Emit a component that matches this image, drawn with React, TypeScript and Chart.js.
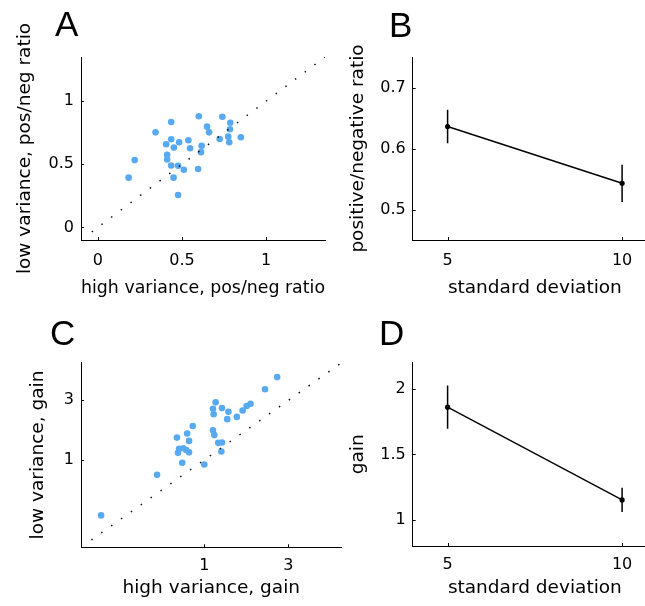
import React, { useEffect, useRef } from "react";
import { Chart, registerables } from "chart.js";
Chart.register(...registerables);

// ---------- Panel A: pos/neg ratio, high vs low variance ----------
const aHighVar = [0.6, 0.74, 0.436, 0.787, 0.649, 0.785, 0.343, 0.661, 0.724, 0.775, 0.85, 0.781, 0.436, 0.538, 0.483, 0.406, 0.452, 0.548, 0.617, 0.613, 0.412, 0.412, 0.219, 0.436, 0.477, 0.511, 0.596, 0.183, 0.45, 0.477];
const aLowVar = [0.88, 0.876, 0.835, 0.829, 0.798, 0.777, 0.753, 0.753, 0.7, 0.719, 0.714, 0.675, 0.698, 0.69, 0.675, 0.659, 0.632, 0.627, 0.646, 0.596, 0.575, 0.538, 0.533, 0.49, 0.488, 0.457, 0.462, 0.394, 0.394, 0.257];
const aDiag = [-0.036, 1.35];
const aTicks = [0, 0.5, 1];

// ---------- Panel B: ratio vs standard deviation ----------
const sdLevels = [5, 10];
const bRatioMean = [0.636, 0.543];
const bRatioErr = [0.0275, 0.0305];
const bYTicks = [0.5, 0.6, 0.7];
const sdTicks = [5, 10];

// ---------- Panel C: gain, high vs low variance (log-log) ----------
const cHighVar = [2.59, 2.21, 1.16, 1.83, 1.74, 1.65, 1.12, 1.26, 1.37, 1.13, 1.53, 1.35, 0.86, 0.8, 0.7, 0.82, 1.12, 1.14, 1.2, 1.26, 1.25, 0.72, 0.76, 0.79, 0.82, 0.71, 0.75, 1.0, 0.54, 0.26];
const cLowVar = [4.6, 3.68, 2.89, 2.82, 2.7, 2.49, 2.57, 2.6, 2.43, 2.32, 2.21, 2.12, 1.87, 1.63, 1.51, 1.42, 1.73, 1.58, 1.37, 1.38, 1.17, 1.23, 1.24, 1.2, 1.15, 1.14, 0.95, 0.92, 0.76, 0.36];
const cDiag = [0.229, 6];
const cTicks = [1, 3];

// ---------- Panel D: gain vs standard deviation ----------
const dGainMean = [1.86, 1.152];
const dGainErr = [0.165, 0.093];
const dYTicks = [1, 1.5, 2];

// ---------- styling / layout ----------
const CW = 700;
const CH = 606;
const FAMILY = "'DejaVu Sans', sans-serif";
const TICK_FONT = { family: FAMILY, size: 16 };
const TITLE_SIZE = 18.5;
const TITLE_LH = 1.2;
const TITLE_FONT = { family: FAMILY, size: TITLE_SIZE, lineHeight: TITLE_LH };
const BLUE = "rgb(88,170,240)";

type Frame = {
  left: number; right: number; top: number; bottom: number;
  yTitleX: number; xTitleBase: number; xTickPad: number;
  letter: string; lx: number; ly: number;
};

const frames: Record<string, Frame> = {
  A: { left: 81, right: 325, top: 57, bottom: 240, yTitleX: 25.5, xTitleBase: 295, xTickPad: 11.5, letter: "A", lx: 55, ly: 36 },
  B: { left: 412.7, right: 657, top: 57, bottom: 240, yTitleX: 358.5, xTitleBase: 295, xTickPad: 11.5, letter: "B", lx: 389, ly: 36.5 },
  C: { left: 81, right: 341.5, top: 362.7, bottom: 547.3, yTitleX: 38, xTitleBase: 595, xTickPad: 9, letter: "C", lx: 50, ly: 345 },
  D: { left: 412.7, right: 657, top: 362.7, bottom: 546, yTitleX: 358.5, xTitleBase: 595, xTickPad: 9, letter: "D", lx: 379, ly: 345 },
};

function geometry(f: Frame) {
  const half = (TITLE_SIZE * TITLE_LH) / 2;
  const mid = 0.346 * TITLE_SIZE;
  const scaleLeft = f.yTitleX - half;
  const yWidth = f.left - scaleLeft;
  const scaleBottom = f.xTitleBase - mid + half;
  const xHeight = scaleBottom - f.bottom;
  return {
    yWidth,
    xHeight,
    padding: { left: scaleLeft, top: f.top, right: CW - f.right, bottom: CH - scaleBottom },
  };
}

function makeAxis(kind: "x" | "y", type: string, min: number, max: number, ticks: number[], title: string, size: number, tickPad: number) {
  return {
    type,
    min,
    max,
    position: kind === "x" ? "bottom" : "left",
    grid: { display: false, drawTicks: false },
    border: { display: true, color: "#000", width: 1 },
    ticks: {
      color: "#000",
      font: TICK_FONT,
      padding: tickPad,
      autoSkip: false,
      maxRotation: 0,
      minRotation: 0,
      callback: (v: any) => String(v),
    },
    title: { display: true, text: title, color: "#000", font: TITLE_FONT, padding: 0 },
    afterBuildTicks: (s: any) => {
      s.ticks = ticks.map((v) => ({ value: v }));
    },
    afterFit: (s: any) => {
      if (kind === "x") s.height = size;
      else s.width = size;
      s.paddingLeft = 0;
      s.paddingRight = 0;
      s.paddingTop = 0;
      s.paddingBottom = 0;
    },
  };
}

const inwardTicks = {
  id: "inwardTicks",
  afterDraw(chart: any) {
    const { ctx, chartArea } = chart;
    const xs = chart.scales.x;
    const ys = chart.scales.y;
    ctx.save();
    ctx.strokeStyle = "#000";
    ctx.lineWidth = 1;
    ctx.beginPath();
    xs.ticks.forEach((t: any) => {
      const px = Math.round(xs.getPixelForValue(t.value)) + 0.5;
      ctx.moveTo(px, chartArea.bottom);
      ctx.lineTo(px, chartArea.bottom - 3);
    });
    ys.ticks.forEach((t: any) => {
      const py = Math.round(ys.getPixelForValue(t.value)) + 0.5;
      ctx.moveTo(chartArea.left, py);
      ctx.lineTo(chartArea.left + 3, py);
    });
    ctx.stroke();
    ctx.restore();
  },
};

function letterPlugin(f: Frame) {
  return {
    id: "panelLetter",
    afterDraw(chart: any) {
      const ctx = chart.ctx;
      ctx.save();
      ctx.fillStyle = "#000";
      ctx.font = "35px 'Liberation Sans', Arial, sans-serif";
      ctx.textAlign = "left";
      ctx.textBaseline = "alphabetic";
      ctx.fillText(f.letter, f.lx, f.ly);
      ctx.restore();
    },
  };
}

function errorBarPlugin(xs: number[], means: number[], errs: number[]) {
  return {
    id: "errorBars",
    afterDatasetsDraw(chart: any) {
      const { ctx } = chart;
      const sx = chart.scales.x;
      const sy = chart.scales.y;
      ctx.save();
      ctx.strokeStyle = "#000";
      ctx.lineWidth = 1.5;
      ctx.beginPath();
      xs.forEach((x, i) => {
        const px = sx.getPixelForValue(x);
        ctx.moveTo(px, sy.getPixelForValue(means[i] - errs[i]));
        ctx.lineTo(px, sy.getPixelForValue(means[i] + errs[i]));
      });
      ctx.stroke();
      ctx.restore();
    },
  };
}

function scatterConfig(f: Frame, xv: number[], yv: number[], diag: number[], axisType: string, min: number, max: number, ticks: number[], xTitle: string, yTitle: string) {
  const g = geometry(f);
  return {
    type: "scatter",
    data: {
      datasets: [
        {
          data: diag.map((v) => ({ x: v, y: v })),
          showLine: true,
          borderColor: "#111",
          borderWidth: 1.5,
          borderDash: [1.5, 10.6],
          borderCapStyle: "butt",
          pointRadius: 0,
          fill: false,
        },
        {
          data: xv.map((x, i) => ({ x, y: yv[i] })),
          backgroundColor: BLUE,
          borderWidth: 0,
          pointRadius: 3.3,
        },
      ],
    },
    options: {
      responsive: false,
      animation: false,
      devicePixelRatio: 1,
      events: [],
      layout: { padding: g.padding },
      plugins: { legend: { display: false }, tooltip: { enabled: false } },
      scales: {
        x: makeAxis("x", axisType, min, max, ticks, xTitle, g.xHeight, f.xTickPad),
        y: makeAxis("y", axisType, min, max, ticks, yTitle, g.yWidth, 7),
      },
    },
    plugins: [inwardTicks, letterPlugin(f)],
  };
}

function sdConfig(f: Frame, means: number[], errs: number[], yMin: number, yMax: number, yTicks: number[], yTitle: string) {
  const g = geometry(f);
  return {
    type: "scatter",
    data: {
      datasets: [
        {
          data: sdLevels.map((x, i) => ({ x, y: means[i] })),
          showLine: true,
          borderColor: "#000",
          borderWidth: 1.4,
          pointRadius: 2.6,
          pointBackgroundColor: "#000",
          pointBorderWidth: 0,
          fill: false,
        },
      ],
    },
    options: {
      responsive: false,
      animation: false,
      devicePixelRatio: 1,
      events: [],
      layout: { padding: g.padding },
      plugins: { legend: { display: false }, tooltip: { enabled: false } },
      scales: {
        x: makeAxis("x", "linear", 4, 11, sdTicks, "standard deviation", g.xHeight, f.xTickPad),
        y: makeAxis("y", "linear", yMin, yMax, yTicks, yTitle, g.yWidth, 7),
      },
    },
    plugins: [errorBarPlugin(sdLevels, means, errs), inwardTicks, letterPlugin(f)],
  };
}

export default function App() {
  const refA = useRef<HTMLCanvasElement>(null);
  const refB = useRef<HTMLCanvasElement>(null);
  const refC = useRef<HTMLCanvasElement>(null);
  const refD = useRef<HTMLCanvasElement>(null);

  useEffect(() => {
    const charts: Chart[] = [];
    charts.push(new Chart(refA.current as any, scatterConfig(frames.A, aHighVar, aLowVar, aDiag, "linear", -0.1, 1.35, aTicks, "high variance, pos/neg ratio", "low variance, pos/neg ratio") as any));
    charts.push(new Chart(refB.current as any, sdConfig(frames.B, bRatioMean, bRatioErr, 0.45, 0.75, bYTicks, "positive/negative ratio") as any));
    charts.push(new Chart(refC.current as any, scatterConfig(frames.C, cHighVar, cLowVar, cDiag, "logarithmic", 0.2, 6, cTicks, "high variance, gain", "low variance, gain") as any));
    charts.push(new Chart(refD.current as any, sdConfig(frames.D, dGainMean, dGainErr, 0.8, 2.2, dYTicks, "gain") as any));
    return () => charts.forEach((c) => c.destroy());
  }, []);

  const cs: React.CSSProperties = { position: "absolute", left: 0, top: 0 };
  return (
    <div style={{ position: "fixed", left: 0, top: 0, width: 645, height: 606, overflow: "hidden", background: "#fff" }}>
      <canvas ref={refA} width={CW} height={CH} style={cs} />
      <canvas ref={refB} width={CW} height={CH} style={cs} />
      <canvas ref={refC} width={CW} height={CH} style={cs} />
      <canvas ref={refD} width={CW} height={CH} style={cs} />
    </div>
  );
}
